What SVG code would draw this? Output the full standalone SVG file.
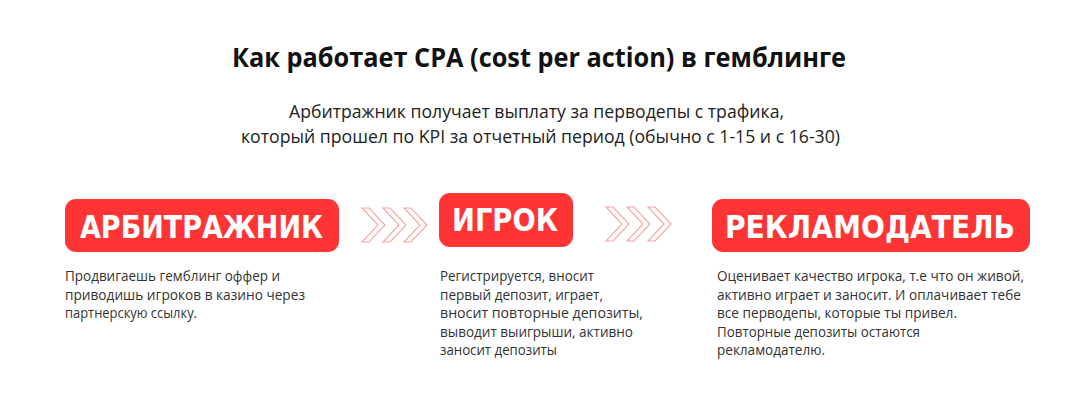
<svg xmlns="http://www.w3.org/2000/svg" width="1080" height="420" viewBox="0 0 1080 420">
<defs>
<style>
.title{font-family:"Open Sans","Noto Sans",sans-serif;font-weight:700;font-size:26px;fill:#111;}
.sub{font-family:"Open Sans","Noto Sans",sans-serif;font-weight:400;font-size:17.5px;fill:#222;}
.body{font-family:"Open Sans","Noto Sans",sans-serif;font-weight:400;font-size:14.3px;fill:#333;}
.box{fill:#ff3535;}
.lbl{font-family:"DejaVu Sans","Noto Sans",sans-serif;font-weight:700;font-size:32px;fill:#fff;}
.chev{fill:none;stroke:#f5a3a3;stroke-width:1.1;}
</style>
<polygon id="chev" points="0,0 7,0 23,17 7,34 0,34 16,17"/>
</defs>
<rect width="1080" height="420" fill="#fff"/>
<text class="title" x="232" y="67" textLength="614" lengthAdjust="spacingAndGlyphs">Как работает CPA (cost per action) в гемблинге</text>
<text class="sub" x="289" y="118" textLength="495" lengthAdjust="spacingAndGlyphs">Арбитражник получает выплату за перводепы с трафика,</text>
<text class="sub" x="241" y="143" textLength="599" lengthAdjust="spacingAndGlyphs">который прошел по KPI за отчетный период (обычно с 1-15 и с 16-30)</text>

<g id="connectors">
<g class="chev" transform="translate(362,208)">
<use href="#chev" x="0"/><use href="#chev" x="21"/><use href="#chev" x="42"/>
</g>
<g class="chev" transform="translate(606,207)">
<use href="#chev" x="0"/><use href="#chev" x="21"/><use href="#chev" x="42"/>
</g>
</g>

<g id="node-arbitr">
<rect class="box" x="65" y="199" width="274" height="53" rx="11"/>
<text class="lbl" x="80" y="238" textLength="243" lengthAdjust="spacingAndGlyphs">АРБИТРАЖНИК</text>
<text class="body" x="65" y="281" textLength="215" lengthAdjust="spacingAndGlyphs">Продвигаешь гемблинг оффер и</text>
<text class="body" x="65" y="299.5" textLength="240" lengthAdjust="spacingAndGlyphs">приводишь игроков в казино через</text>
<text class="body" x="65" y="318" textLength="132" lengthAdjust="spacingAndGlyphs">партнерскую ссылку.</text>
</g>

<g id="node-player">
<rect class="box" x="439" y="193" width="134" height="54" rx="11"/>
<text class="lbl" x="452" y="231" textLength="106" lengthAdjust="spacingAndGlyphs">ИГРОК</text>
<text class="body" x="440" y="281" textLength="154" lengthAdjust="spacingAndGlyphs">Регистрируется, вносит</text>
<text class="body" x="440" y="299.5" textLength="163" lengthAdjust="spacingAndGlyphs">первый депозит, играет,</text>
<text class="body" x="440" y="318" textLength="203" lengthAdjust="spacingAndGlyphs">вносит повторные депозиты,</text>
<text class="body" x="440" y="336.5" textLength="193" lengthAdjust="spacingAndGlyphs">выводит выигрыши, активно</text>
<text class="body" x="440" y="355" textLength="117" lengthAdjust="spacingAndGlyphs">заносит депозиты</text>
</g>

<g id="node-advertiser">
<rect class="box" x="712" y="199" width="318" height="53" rx="11"/>
<text class="lbl" x="725" y="238" textLength="290" lengthAdjust="spacingAndGlyphs">РЕКЛАМОДАТЕЛЬ</text>
<text class="body" x="717" y="281" textLength="307" lengthAdjust="spacingAndGlyphs">Оценивает качество игрока, т.е что он живой,</text>
<text class="body" x="717" y="299.5" textLength="304" lengthAdjust="spacingAndGlyphs">активно играет и заносит. И оплачивает тебе</text>
<text class="body" x="717" y="318" textLength="240" lengthAdjust="spacingAndGlyphs">все перводепы, которые ты привел.</text>
<text class="body" x="717" y="336.5" textLength="203" lengthAdjust="spacingAndGlyphs">Повторные депозиты остаются</text>
<text class="body" x="717" y="355" textLength="108" lengthAdjust="spacingAndGlyphs">рекламодателю.</text>
</g>
</svg>
